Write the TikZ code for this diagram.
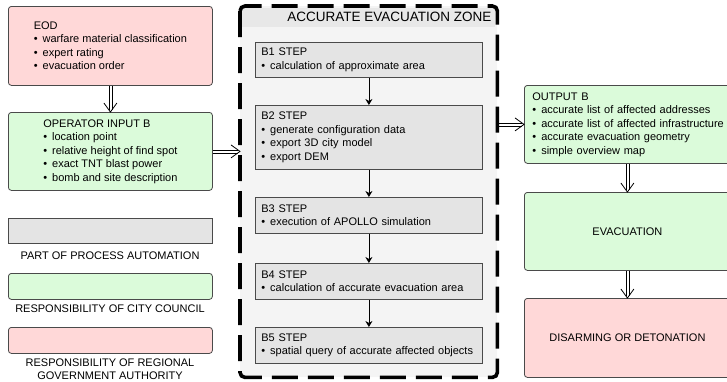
\documentclass[tikz,border=0pt]{standalone}
\usepackage{fontspec}
\setmainfont{Liberation Sans}
\usetikzlibrary{arrows.meta}

\definecolor{redfill}{HTML}{FFD8D8}
\definecolor{greenfill}{HTML}{DBFBDA}
\definecolor{greyfill}{HTML}{E4E4E4}
\definecolor{zonefill}{HTML}{F4F4F4}
\definecolor{zonehead}{HTML}{E8E8E8}
\definecolor{edgegrey}{HTML}{4A4A4A}

\newcommand{\itm}{\textbullet\hspace{5pt}}

\tikzset{
    box/.style={draw=edgegrey, line width=0.8pt, inner sep=0pt, anchor=north west},
    redbox/.style={box, fill=redfill, rounded corners=3pt, align=left},
    greenbox/.style={box, fill=greenfill, rounded corners=3pt, align=left},
    stepbox/.style={box, fill=greyfill, minimum width=227pt, text width=215pt,
        inner xsep=6pt, align=left},
    legendtext/.style={anchor=center, align=center},
    shaft/.style={line width=0.7pt},
    openhead/.style={line width=0.8pt, line join=miter},
    steparrow/.style={line width=0.7pt, -{Stealth[length=6pt, width=7pt]}},
}

\begin{document}
\begin{tikzpicture}[x=1pt, y=-1pt, font=\fontsize{11}{13.5}\selectfont]
    \clip (0,0) rectangle (727,381);

    % left column
    \node[redbox, minimum width=204pt, minimum height=79pt] (eod) at (8,6)
        {EOD\\ \itm warfare material classification\\ \itm expert rating\\ \itm evacuation order};
    \node[greenbox, minimum width=204pt, minimum height=78pt] (op) at (8,112)
        {OPERATOR INPUT B\\ \itm location point\\ \itm relative height of find spot\\
         \itm exact TNT blast power\\ \itm bomb and site description};

    % legend
    \node[box, fill=greyfill, minimum width=204pt, minimum height=25pt] (leggrey) at (8,218) {};
    \node[legendtext] (legauto) at (110,256) {PART OF PROCESS AUTOMATION};
    \node[greenbox, minimum width=204pt, minimum height=26pt] (leggreen) at (8,273) {};
    \node[legendtext] (legcity) at (110,309) {RESPONSIBILITY OF CITY COUNCIL};
    \node[redbox, minimum width=204pt, minimum height=26pt] (legred) at (8,327) {};
    \node[legendtext] (leggov) at (110,369) {RESPONSIBILITY OF REGIONAL\\ GOVERNMENT AUTHORITY};

    % evacuation zone
    \node[anchor=north west, fill=zonefill, rounded corners=5pt, inner sep=0pt,
        minimum width=257pt, minimum height=371pt] (zone) at (240,6) {};
    \fill[zonehead] (242,8) rectangle (495,27);
    \node[anchor=east, font=\fontsize{13.5}{16}\selectfont] (zonetitle) at (495,17)
        {ACCURATE EVACUATION ZONE};
    \draw[line width=3.6pt, dash pattern=on 26pt off 10pt, rounded corners=5pt]
        (zone.north west) rectangle (zone.south east);

    \node[stepbox, minimum height=35pt] (b1) at (255,42)
        {B1 STEP\\ \itm calculation of approximate area};
    \node[stepbox, minimum height=64pt] (b2) at (255,105)
        {B2 STEP\\ \itm generate configuration data\\ \itm export 3D city model\\ \itm export DEM};
    \node[stepbox, minimum height=36pt] (b3) at (255,197)
        {B3 STEP\\ \itm execution of APOLLO simulation};
    \node[stepbox, minimum height=36pt] (b4) at (255,263)
        {B4 STEP\\ \itm calculation of accurate evacuation area};
    \node[stepbox, minimum height=36pt] (b5) at (255,327)
        {B5 STEP\\ \itm spatial query of accurate affected objects};

    \draw[steparrow] (b1) -- (b2);
    \draw[steparrow] (b2) -- (b3);
    \draw[steparrow] (b3) -- (b4);
    \draw[steparrow] (b4) -- (b5);

    % right column
    \node[greenbox, minimum width=216pt, minimum height=78pt, text width=200pt,
        inner xsep=8pt] (out) at (524,85)
        {OUTPUT B\\ \itm accurate list of affected addresses\\
         \itm accurate list of affected infrastructure\\
         \itm accurate evacuation geometry\\ \itm simple overview map};
    \node[greenbox, minimum width=206pt, minimum height=78pt, align=center] (evac) at (524,192)
        {EVACUATION};
    \node[redbox, minimum width=206pt, minimum height=79pt, align=center] (disarm) at (524,298)
        {DISARMING OR DETONATION};

    % connectors (hollow double arrows)
    \coordinate (zonein) at (zone.west |- op.east);
    \coordinate (zoneout) at (zone.east |- out.west);
    \coordinate (outbottom) at (out.south -| evac.north);

    \draw[shaft] ([xshift=-1.5pt]eod.south) -- ([xshift=-1.5pt,yshift=2.5pt]op.north)
        ([xshift=1.5pt]eod.south) -- ([xshift=1.5pt,yshift=2.5pt]op.north);
    \draw[openhead] ([xshift=-6.5pt,yshift=9pt]op.north) -- (op.north) -- ([xshift=6.5pt,yshift=9pt]op.north);

    \draw[shaft] ([yshift=1.5pt]op.east) -- ([xshift=-2.5pt,yshift=1.5pt]zonein)
        ([yshift=-1.5pt]op.east) -- ([xshift=-2.5pt,yshift=-1.5pt]zonein);
    \draw[openhead] ([xshift=-9pt,yshift=6.5pt]zonein) -- (zonein) -- ([xshift=-9pt,yshift=-6.5pt]zonein);

    \draw[shaft] ([xshift=1.8pt,yshift=1.5pt]zoneout) -- ([xshift=-2.5pt,yshift=1.5pt]out.west)
        ([xshift=1.8pt,yshift=-1.5pt]zoneout) -- ([xshift=-2.5pt,yshift=-1.5pt]out.west);
    \draw[openhead] ([xshift=-9pt,yshift=6.5pt]out.west) -- (out.west) -- ([xshift=-9pt,yshift=-6.5pt]out.west);

    \draw[shaft] ([xshift=-1.5pt]outbottom) -- ([xshift=-1.5pt,yshift=2.5pt]evac.north)
        ([xshift=1.5pt]outbottom) -- ([xshift=1.5pt,yshift=2.5pt]evac.north);
    \draw[openhead] ([xshift=-6.5pt,yshift=9pt]evac.north) -- (evac.north) -- ([xshift=6.5pt,yshift=9pt]evac.north);

    \draw[shaft] ([xshift=-1.5pt]evac.south) -- ([xshift=-1.5pt,yshift=2.5pt]disarm.north)
        ([xshift=1.5pt]evac.south) -- ([xshift=1.5pt,yshift=2.5pt]disarm.north);
    \draw[openhead] ([xshift=-6.5pt,yshift=9pt]disarm.north) -- (disarm.north) -- ([xshift=6.5pt,yshift=9pt]disarm.north);
\end{tikzpicture}
\end{document}
